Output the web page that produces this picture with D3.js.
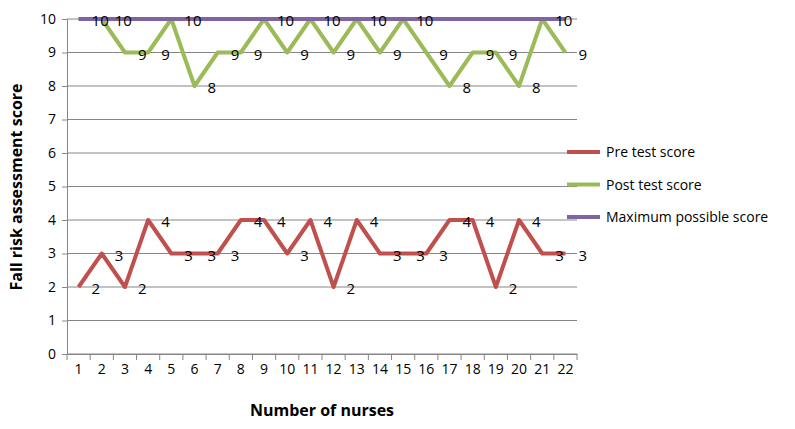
<!DOCTYPE html>
<html><head><meta charset="utf-8">
<script src="https://cdn.jsdelivr.net/npm/d3@7"></script>
<style>body{margin:0;background:#fff}text{font-family:"Open Sans","Liberation Sans",sans-serif}</style>
</head><body>
<script>
var nurses = d3.range(1, 23);
var preTest = [2,3,2,4,3,3,3,4,4,3,4,2,4,3,3,3,4,4,2,4,3,3];
var postTest = [10,10,9,9,10,8,9,9,10,9,10,9,10,9,10,9,8,9,9,8,10,9];
var maxScore = nurses.map(function(){return 10;});
var yTicks = d3.range(0, 11);

var svg = d3.select("body").append("svg").attr("width",795).attr("height",429);

var x = d3.scaleBand().domain(nurses).range([67,577]);
var y = d3.scaleLinear().domain([0,10]).range([354,19]);

// grid
svg.selectAll(".grid").data(yTicks).enter().append("line")
  .attr("x1",67).attr("x2",577)
  .attr("y1",function(d){return y(d);}).attr("y2",function(d){return y(d);})
  .attr("stroke","#868686").attr("stroke-width",1);

var xAxis = svg.append("g").attr("transform","translate(0,354)")
  .call(d3.axisBottom(x).tickSizeOuter(0).tickSize(0));
xAxis.select(".domain").attr("stroke","#868686");
xAxis.selectAll("text").attr("font-size",14).attr("dy","1.2em").attr("fill","#000");
// tick marks between categories
svg.selectAll(".xt").data(d3.range(0,23)).enter().append("line")
  .attr("x1",function(d){return 67+d*x.step();}).attr("x2",function(d){return 67+d*x.step();})
  .attr("y1",354).attr("y2",360).attr("stroke","#868686");

var yAxis = svg.append("g").attr("transform","translate(67,0)")
  .call(d3.axisLeft(y).tickValues(yTicks).tickSize(5).tickSizeOuter(0));
yAxis.select(".domain").attr("stroke","#868686");
yAxis.selectAll("line").attr("stroke","#868686");
yAxis.selectAll("text").attr("font-size",14).attr("fill","#000").attr("x",-11);

var cx = function(d,i){return x(nurses[i]) + x.bandwidth()/2;};
var line = d3.line().x(function(d,i){return cx(d,i);}).y(function(d){return y(d);});

var series = [
  {name:"Pre test score", values:preTest, color:"#C0504D", labels:true},
  {name:"Post test score", values:postTest, color:"#9BBB59", labels:true},
  {name:"Maximum possible score", values:maxScore, color:"#8064A2", labels:false}
];

series.forEach(function(s){
  svg.append("path").attr("d",line(s.values)).attr("fill","none")
    .attr("stroke",s.color).attr("stroke-width",4).attr("stroke-linejoin","round");
});
series.forEach(function(s){
  if(!s.labels) return;
  svg.selectAll(null).data(s.values).enter().append("text")
    .attr("x",function(d,i){return cx(d,i)+13;})
    .attr("y",function(d){return y(d)+7;})
    .attr("font-size",15).attr("fill","#000")
    .text(function(d){return d;});
});

// legend
series.forEach(function(s,i){
  var ly = 152 + i*32.5;
  svg.append("line").attr("x1",567).attr("x2",600).attr("y1",ly).attr("y2",ly)
    .attr("stroke",s.color).attr("stroke-width",4);
  svg.append("text").attr("x",606).attr("y",ly+5).attr("font-size",14).text(s.name);
});

svg.append("text").attr("x",322).attr("y",416).attr("text-anchor","middle")
  .attr("font-size",16).attr("font-weight","bold").text("Number of nurses");
svg.append("text").attr("transform","translate(22,187) rotate(-90)").attr("text-anchor","middle")
  .attr("font-size",16).attr("font-weight","bold").text("Fall risk assessment score");
</script>
</body></html>
